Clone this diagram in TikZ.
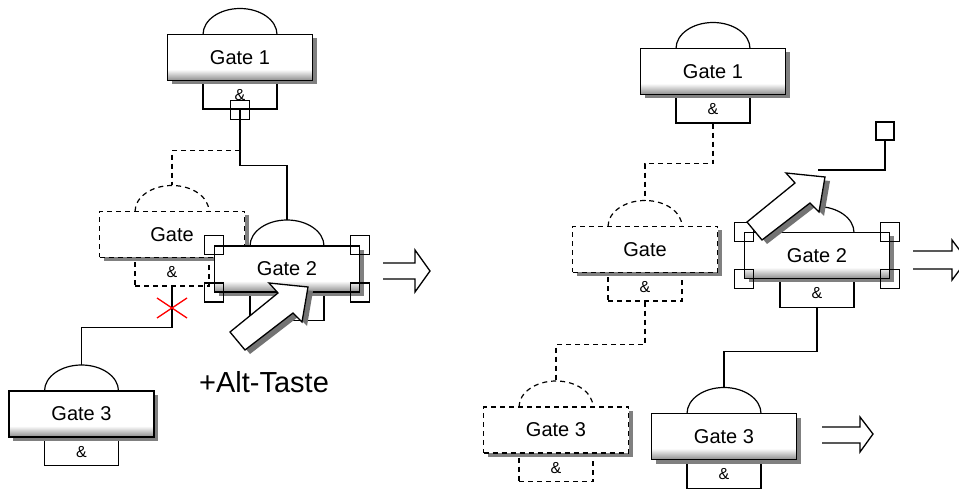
\documentclass[tikz,border=0pt]{standalone}
\usepackage{fontspec}
\setmainfont{Liberation Sans}
\usetikzlibrary{shadows,calc}
\pgfdeclareverticalshading{gateshade}{100bp}{color(0bp)=(black!45); color(25bp)=(black!45); color(37bp)=(white); color(100bp)=(white)}
\tikzset{
  gatebase/.style={draw, minimum width=145pt, minimum height=46pt, inner sep=0pt,
    font=\fontsize{20}{20}\selectfont,
    drop shadow={shadow xshift=4pt, shadow yshift=-4pt, fill=black!50, opacity=1}},
  gaterect/.style={gatebase, shade, shading=gateshade},
  dgaterect/.style={gatebase, fill=white, dashed, dash pattern=on 5pt off 4pt},
  andbox/.style={draw, fill=white, minimum width=74pt, minimum height=28pt, inner sep=0pt,
    font=\fontsize{16}{16}\selectfont},
  dline/.style={dashed, dash pattern=on 5pt off 4pt},
  handle/.style={draw, minimum size=19pt, inner sep=0pt},
  conn/.style={line width=1.2pt},
  dconn/.style={line width=1.2pt, dashed, dash pattern=on 5pt off 4pt},
  bigarrowstyle/.style={draw, fill=white, line width=1.3pt, line join=miter},
  hollow/.style={draw, fill=white, line width=1.3pt},
  redx/.style={draw=red, line width=1.3pt}
}
% #1 name, #2 x, #3 y, #4 label, #5 and-text, #6 line style, #7 rect style
\newcommand\gatedraw[7]{%
  \node[andbox,#6,anchor=north] (#1a) at (#2,#3+23) {#5};
  \draw[#6] (#2-37,#3-23) arc[start angle=180,end angle=0,x radius=37pt,y radius=26pt];
  \coordinate (#1d) at (#2,#3-49);
  \node[#7] (#1) at (#2,#3) {#4};
}
\newcommand\blockarrow[2]{%
  \begin{scope}[shift={(#1,#2)}]
    \fill[black!55] (5,4) -- (53,-35) -- (44,-45) -- (83,-41) -- (77,-6) -- (68,-15) -- (20,22) -- cycle;
    \draw[bigarrowstyle] (0,0) -- (48,-39) -- (39,-49) -- (78,-45) -- (72,-10) -- (63,-19) -- (15,18) -- cycle;
  \end{scope}}
\begin{document}
\begin{tikzpicture}[x=1pt, y=-1pt, line width=1.2pt]
\useasboundingbox (0,0) rectangle (959,489);
\fill[white] (0,0) rectangle (959,489);
\begin{scope}
\clip (0,0) rectangle (959,489);

% ---------------- left panel ----------------
\gatedraw{Lg1}{240}{57.5}{Gate 1}{\&}{solid}{gaterect}
\gatedraw{Lg}{172}{234.5}{Gate}{\&}{dline}{dgaterect}
\gatedraw{Lg3}{81.5}{414}{Gate 3}{\&}{solid}{gaterect}

\coordinate (Lj) at ($(Lg1a.south)+(0,41)$);
\draw[dconn] (Lj) -| (Lgd);
\draw[conn] (Lga.south) -- ++(0,41) -| (Lg3d);

\gatedraw{Lg2}{287}{269}{Gate 2}{}{solid}{gaterect}
\draw[conn] (Lg1a.south) -- ++(0,56) -| (Lg2d);
\node[handle] (Lh) at (Lg1a.south) {};
\foreach \a/\n in {north west/nw, north east/ne, south west/sw, south east/se}
  \node[handle] (Lg2\n) at (Lg2.\a) {};

\coordinate (xm) at (172,308);
\draw[redx] ($(xm)+(-15,-10)$) -- ($(xm)+(15,10)$);
\draw[redx] ($(xm)+(-15,10)$) -- ($(xm)+(15,-10)$);

\blockarrow{230}{332}
\node[font=\fontsize{29}{29}\selectfont, anchor=base] (alt) at (264,392) {+Alt-Taste};

\draw[hollow] (383,263) -- (415,263) -- (415,250) -- (430,271) -- (415,292) -- (415,279) -- (383,279);

% ---------------- right panel ----------------
\gatedraw{Rg1}{713}{71.5}{Gate 1}{\&}{solid}{gaterect}
\gatedraw{Rg}{645}{249.5}{Gate}{\&}{dline}{dgaterect}
\gatedraw{Rgt}{556}{430}{Gate 3}{\&}{dline}{dgaterect}
\gatedraw{Rg3}{724}{436.5}{Gate 3}{\&}{solid}{gaterect}

\draw[dconn] (Rg1a.south) -- ++(0,40) -| (Rgd);
\draw[dconn] (Rga.south) -- ++(0,43) -| (Rgtd);

\gatedraw{Rg2}{817}{255.5}{Gate 2}{\&}{solid}{gaterect}
\draw[conn] (Rg2a.south) -- ++(0,44) -| (Rg3d);
\foreach \a/\n in {north west/nw, north east/ne, south west/sw, south east/se}
  \node[handle] (Rg2\n) at (Rg2.\a) {};

\node[handle, minimum size=18pt] (Rsq) at (885,131) {};
\coordinate (Rtip) at (818,170);
\draw[conn] (Rsq.south) |- (Rtip);

\blockarrow{747}{222}

\draw[hollow] (913,251) -- (952,251) -- (952,240) -- (967,260) -- (952,280) -- (952,269) -- (913,269);
\draw[hollow] (822,427) -- (860,427) -- (860,417) -- (873,434) -- (860,452) -- (860,443) -- (822,443);
\end{scope}
\end{tikzpicture}
\end{document}
